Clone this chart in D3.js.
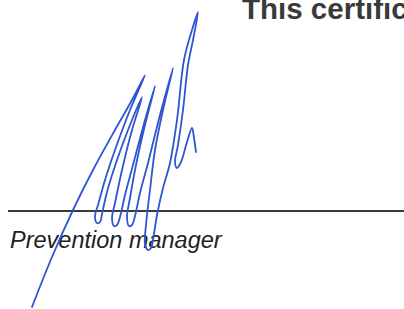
<!DOCTYPE html>
<html>
<head>
<meta charset="utf-8">
<script src="https://cdn.jsdelivr.net/npm/d3@7"></script>
<style>
  html, body { margin: 0; padding: 0; background: #fff; }
  svg { display: block; }
</style>
</head>
<body>
<div class="canvas"></div>
<script>
const svgWidth = 404;
const svgHeight = 309;

// Texts on the page
const headingText = 'This certific';
const roleText = 'Prevention manager';

// Signature line: where it sits on the page (page units)
const ruleY = 211;
const ruleFrom = 8;
const ruleTo = 404;

// Signature pen track, in page units, one continuous stroke
const sigX = [32, 52, 73, 93, 115, 132, 145,
  130, 115, 105, 98, 95, 97, 100, 102,
  107, 116, 128, 142,
  132, 122, 115, 112, 114, 117, 120,
  125, 133, 145, 155,
  145, 136, 130, 127, 129, 132, 135,
  140, 148, 160, 173,
  163, 155, 150, 146, 145, 148, 151, 153,
  157, 163, 170, 177, 184, 192, 198,
  193, 188, 183, 178, 175, 177, 181, 187, 192, 194, 196];
const sigY = [307, 257, 210, 170, 130, 100, 75,
  110, 150, 180, 205, 216, 223, 222, 214,
  192, 163, 130, 97,
  130, 170, 203, 218, 226, 225, 217,
  195, 165, 120, 86,
  125, 165, 198, 217, 226, 225, 216,
  193, 163, 115, 68,
  110, 150, 190, 225, 244, 250, 248, 240,
  215, 188, 163, 120, 60, 30, 12,
  40, 65, 110, 145, 162, 168, 162, 142, 128, 138, 152];

const svg = d3.select('.canvas')
  .append('svg')
    .attr('width', svgWidth)
    .attr('height', svgHeight);

// Scale setup (page units -> pixels)
const x = d3.scaleLinear().domain([0, 404]).range([0, svgWidth]);
const y = d3.scaleLinear().domain([0, 309]).range([0, svgHeight]);

// Heading, cut off by the right edge like the scan
svg.append('text')
  .attr('x', x(242))
  .attr('y', y(18.5))
  .attr('font-family', 'Liberation Sans, Arial, sans-serif')
  .attr('font-weight', 'bold')
  .attr('font-size', 29.5)
  .attr('fill', '#3a3a3a')
  .text(headingText);

// Rule
svg.append('line')
  .attr('x1', x(ruleFrom))
  .attr('x2', x(ruleTo))
  .attr('y1', y(ruleY))
  .attr('y2', y(ruleY))
  .attr('stroke', '#3a3a3a')
  .attr('stroke-width', 2);

// Role under the rule
svg.append('text')
  .attr('x', x(10))
  .attr('y', y(248))
  .attr('font-family', 'Liberation Sans, Arial, sans-serif')
  .attr('font-style', 'italic')
  .attr('font-size', 23.5)
  .attr('fill', '#222')
  .text(roleText);

// Signature
const points = sigX.map((d, i) => [d, sigY[i]]);
const line = d3.line()
  .x(d => x(d[0]))
  .y(d => y(d[1]))
  .curve(d3.curveCatmullRom.alpha(0.5));

svg.append('path')
  .datum(points)
  .attr('d', line)
  .attr('fill', 'none')
  .attr('stroke', '#2f55d0')
  .attr('stroke-width', 1.8)
  .attr('stroke-linecap', 'round')
  .attr('stroke-linejoin', 'round');
</script>
</body>
</html>
